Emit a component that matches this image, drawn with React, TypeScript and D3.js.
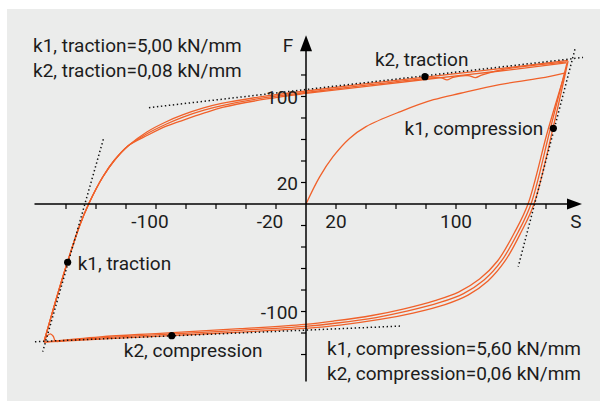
import React from "react";
import * as d3 from "d3";

type Pt = [number, number];

// courbe de première charge (S, F)
const virgin: Pt[] = [
  [0, 0], [9, 25], [18, 44], [29, 61], [40, 72], [63, 86], [85, 97],
  [103, 103], [129, 111], [156, 117], [173, 122],
];

// branches de compression (haut droite -> bas gauche)
const compression1: Pt[] = [
  [174.7, 133], [164.7, 70.7], [152, 0], [143.3, -26.5], [132.7, -53],
  [121.3, -71.6], [108, -84.7], [92.7, -93.5], [71.3, -101.4], [49.3, -107.4],
  [22.7, -112.6], [-0.7, -115.6], [-44, -119.1], [-97.3, -122.8],
  [-137.3, -125.6], [-174.7, -128.4],
];
const compression2: Pt[] = [
  [174, 131.2], [163, 70.7], [150, 0], [141.3, -26.5], [130.3, -53],
  [118.7, -70.7], [105, -83.3], [89.3, -91.6], [68, -99.5], [46.7, -105.6],
  [20.7, -110.7], [-0.7, -113.8], [-44, -117.5], [-97.3, -121.5],
  [-137.3, -124.6], [-160, -126.8], [-167, -127.6], [-168.5, -123],
  [-170.5, -120.8], [-172.8, -123], [-174.7, -128.4],
];
const compression3: Pt[] = [
  [172.7, 121.9], [161.3, 68.8], [148, 0], [139, -26.5], [127.7, -53],
  [115.7, -69.8], [101.7, -81.9], [86, -89.8], [64.7, -97.7], [44, -103.7],
  [18.7, -108.8], [-0.7, -111.9], [-44, -116], [-97.3, -120.3],
  [-137.3, -123.5], [-174.7, -128.4],
];

// branches de traction (bas gauche -> haut droite)
const traction1: Pt[] = [
  [-174.7, -128.4], [-166.7, -89.3], [-159, -54], [-151, -20.5], [-144.9, 0],
  [-135.5, 25.1], [-127.6, 40.9], [-118.7, 54], [-106.1, 67], [-93.5, 76.3],
  [-82.3, 82.8], [-68.3, 89.3], [-56.3, 93.5], [-26.3, 100.5], [0, 105.1],
  [36, 111.2], [79.3, 118.1], [129.3, 126], [174.7, 133.5],
];
const traction2: Pt[] = [
  [-174.7, -128.4], [-166.7, -89.3], [-159, -54], [-151, -20.5], [-144.9, 0],
  [-135.5, 25.1], [-127.6, 40.9], [-118.7, 54], [-105.7, 65.6], [-93, 74.4],
  [-82, 80.9], [-68, 87.4], [-56, 91.6], [-26.3, 99.1], [0, 103.7],
  [36, 109.8], [79.3, 116.7], [90, 117.6], [94, 115.4], [98, 117.8],
  [108, 119.4], [113, 117.6], [117, 119.8], [129.3, 124.6], [174, 132.1],
];
const traction3: Pt[] = [
  [-174.7, -128.4], [-166.7, -89.3], [-159, -54], [-151, -20.5], [-144.9, 0],
  [-135.5, 25.1], [-127.6, 40.9], [-118.7, 54], [-105.3, 64.2], [-92.7, 72.6],
  [-81.7, 78.1], [-67.7, 84.7], [-55.7, 89.8], [-26.3, 97.7], [0, 102.8],
  [36, 108.8], [79.3, 115.8], [129.3, 123.7], [173.3, 131.2],
];

// droites de rigidité (pointillés)
const tangentK1Traction: Pt[] = [[-135.1, 60.2], [-175.5, -137.3]];
const tangentK2Traction: Pt[] = [[-104.7, 89.6], [184.7, 136.3]];
const tangentK1Compression: Pt[] = [[179.3, 143.9], [141.5, -58.3]];
const tangentK2Compression: Pt[] = [[-180.7, -128.1], [63.8, -113.5]];

const tangentPoints: Pt[] = [
  [79.3, 118.4], [164.9, 70.4], [-158.9, -54.2], [-89.5, -122.5],
];
const tangentNames = ["k2, traction", "k1, compression", "k1, traction", "k2, compression"];

const xTickValues = [-160, -140, -120, -100, -80, -60, -40, -20, 20, 40, 60, 80, 100, 120, 140, 160];
const yTickValues = [-140, -120, -100, -80, -60, -40, -20, 20, 40, 60, 80, 100, 120];
const xTickLabels = [-100, -20, 20, 100];
const yTickLabels = [-100, 20, 100];

const topLegend = ["k1, traction=5,00 kN/mm", "k2, traction=0,08 kN/mm"];
const bottomLegend = ["k1, compression=5,60 kN/mm", "k2, compression=0,06 kN/mm"];

const App: React.FC = () => {
  const width = 600;
  const height = 401;
  const orange = "#f0612a";
  const ink = "#1c1c1c";
  const font = "Roboto, 'Noto Sans', sans-serif";
  const fs = 19;

  const x = d3.scaleLinear().domain([-181, 184]).range([34.5, 582]);
  const y = d3.scaleLinear().domain([-165, 157]).range([381.4, 35.2]);

  const line = d3
    .line<Pt>()
    .x((d) => x(d[0]))
    .y((d) => y(d[1]))
    .curve(d3.curveCatmullRom.alpha(0.5));
  const straight = d3
    .line<Pt>()
    .x((d) => x(d[0]))
    .y((d) => y(d[1]));

  const curves = [virgin, compression3, traction3, compression2, traction2, compression1, traction1];
  const tangents = [tangentK1Traction, tangentK2Traction, tangentK1Compression, tangentK2Compression];

  // décalages des étiquettes par rapport au point
  const labelOffsets = [
    { dx: -50, dy: -10.5, anchor: "start" },
    { dx: -10, dy: 7, anchor: "end" },
    { dx: 10, dy: 8, anchor: "start" },
    { dx: -48, dy: 21.5, anchor: "start" },
  ];

  const x0 = x(0);
  const y0 = y(0);

  return (
    <svg
      width={width}
      height={height}
      style={{ position: "absolute", left: 0, top: 0 }}
      fontFamily={font}
    >
      <rect x={0} y={0} width={width} height={height} fill="#fff" />
      <rect x={7} y={9} width={593} height={392} fill="#ebeceb" />

      {/* Courbes */}
      {curves.map((c, i) => (
        <path key={i} d={line(c) ?? ""} fill="none" stroke={orange} strokeWidth={1.3} />
      ))}

      {/* Tangentes */}
      {tangents.map((t, i) => (
        <path
          key={i}
          d={straight(t) ?? ""}
          fill="none"
          stroke="#111"
          strokeWidth={1.5}
          strokeDasharray="1.4 2.6"
        />
      ))}

      {/* Axes */}
      <line x1={x(-181)} x2={x(184) - 10} y1={y0} y2={y0} stroke="#000" strokeWidth={1.5} />
      <line x1={x0} x2={x0} y1={y(-165)} y2={y(157) + 10} stroke="#000" strokeWidth={1.5} />
      <path
        d={`M${x(184)},${y0} L${x(184) - 15},${y0 - 5.5} L${x(184) - 15},${y0 + 5.5} Z`}
        fill="#000"
      />
      <path
        d={`M${x0},${y(157)} L${x0 - 6},${y(157) + 16} L${x0 + 6},${y(157) + 16} Z`}
        fill="#000"
      />
      {xTickValues.map((t) => (
        <line key={t} x1={x(t)} x2={x(t)} y1={y0} y2={y0 + 5} stroke="#000" strokeWidth={1.2} />
      ))}
      {yTickValues.map((t) => (
        <line key={t} x1={x0 - 5} x2={x0} y1={y(t)} y2={y(t)} stroke="#000" strokeWidth={1.2} />
      ))}
      {xTickLabels.map((t) => (
        <text
          key={t}
          x={x(t) + (t < 0 ? -6 : 0)}
          y={y0 + 24}
          textAnchor="middle"
          fontSize={fs}
          fill={ink}
        >
          {t}
        </text>
      ))}
      {yTickLabels.map((t) => (
        <text key={t} x={x0 - 8} y={y(t) + 7.5} textAnchor="end" fontSize={fs} fill={ink}>
          {t}
        </text>
      ))}
      <text x={x0 - 18} y={52} textAnchor="middle" fontSize={fs} fill={ink}>
        F
      </text>
      <text x={x(184) - 6} y={y0 + 24} textAnchor="middle" fontSize={fs} fill={ink}>
        S
      </text>

      {/* Points et étiquettes */}
      {tangentPoints.map((p, i) => (
        <g key={i}>
          <circle cx={x(p[0])} cy={y(p[1])} r={3.6} fill="#000" />
          <text
            x={x(p[0]) + labelOffsets[i].dx}
            y={y(p[1]) + labelOffsets[i].dy}
            textAnchor={labelOffsets[i].anchor}
            fontSize={fs}
            fill={ink}
          >
            {tangentNames[i]}
          </text>
        </g>
      ))}

      {/* Légendes */}
      {topLegend.map((t, i) => (
        <text key={t} x={33} y={52 + i * 25} fontSize={fs} fill={ink}>
          {t}
        </text>
      ))}
      {bottomLegend.map((t, i) => (
        <text key={t} x={327} y={355 + i * 25} fontSize={fs} fill={ink}>
          {t}
        </text>
      ))}
    </svg>
  );
};

export default App;
